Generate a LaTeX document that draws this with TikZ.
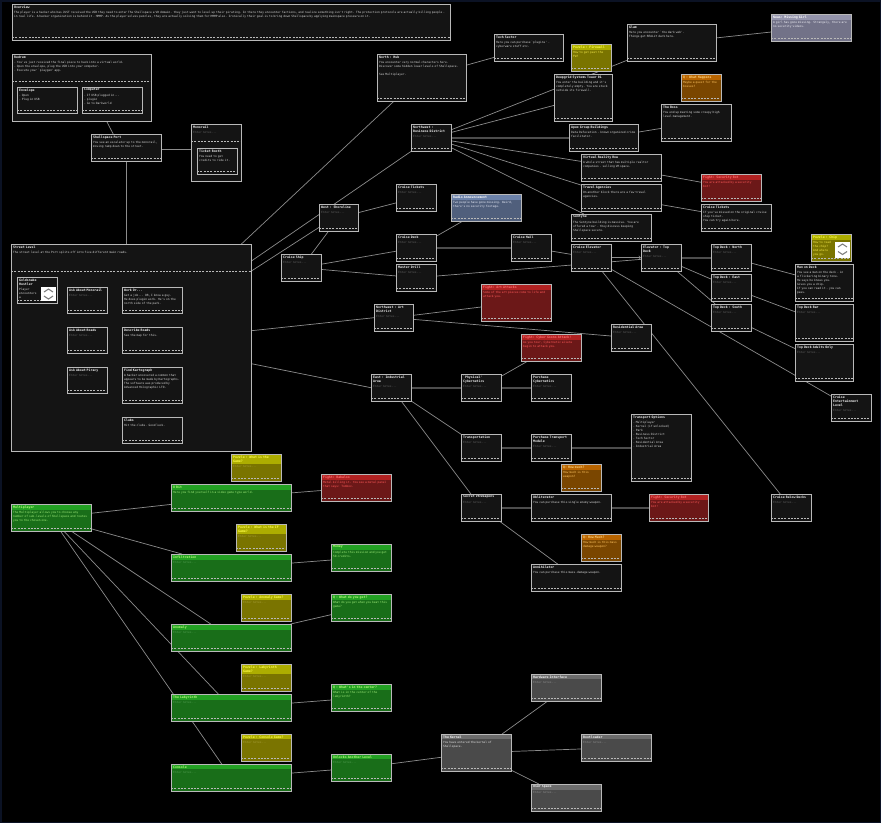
\documentclass[tikz,border=0pt]{standalone}
\usepackage{fontspec}
\setmonofont{DejaVu Sans Mono}

\pgfdeclarelayer{bg}
\pgfsetlayers{bg,main}

\definecolor{frame}{HTML}{0B1224}
\definecolor{rimgrey}{HTML}{B9B9B9}
\definecolor{linkgrey}{HTML}{8C8C8C}
\definecolor{bondgrey}{HTML}{4C4C4C}

\definecolor{plainbody}{HTML}{141414}\colorlet{plainhead}{plainbody}
\definecolor{plaintitle}{HTML}{F2F2F2}\definecolor{plaintext}{HTML}{D4D4D4}\definecolor{plainhint}{HTML}{5E5E5E}
\definecolor{greenhead}{HTML}{23A023}\definecolor{greenbody}{HTML}{196E19}
\definecolor{greentitle}{HTML}{B4FF78}\definecolor{greentext}{HTML}{9CE878}\definecolor{greenhint}{HTML}{4E9A4E}
\definecolor{yellowhead}{HTML}{ADAD00}\definecolor{yellowbody}{HTML}{7A7400}
\definecolor{yellowtitle}{HTML}{FFFF48}\definecolor{yellowtext}{HTML}{F2E64A}\definecolor{yellowhint}{HTML}{A49C36}
\definecolor{redhead}{HTML}{B02222}\definecolor{redbody}{HTML}{6C1818}
\definecolor{redtitle}{HTML}{FF6E6E}\definecolor{redtext}{HTML}{FF5A5A}\definecolor{redhint}{HTML}{B04848}
\definecolor{orangehead}{HTML}{B86400}\definecolor{orangebody}{HTML}{7A4600}
\definecolor{orangetitle}{HTML}{FFD27A}\definecolor{orangetext}{HTML}{FFC460}\definecolor{orangehint}{HTML}{B88040}
\definecolor{slatehead}{HTML}{6C82AA}\definecolor{slatebody}{HTML}{505F7C}
\definecolor{slatetitle}{HTML}{FFFFFF}\definecolor{slatetext}{HTML}{E4E8F4}\definecolor{slatehint}{HTML}{9AA4BC}
\definecolor{lilachead}{HTML}{9494AC}\definecolor{lilacbody}{HTML}{727288}
\definecolor{lilactitle}{HTML}{FFFFFF}\definecolor{lilactext}{HTML}{EEEEF4}\definecolor{lilachint}{HTML}{A8A8B8}
\definecolor{greyhead}{HTML}{6C6C6C}\definecolor{greybody}{HTML}{4A4A4A}
\definecolor{greytitle}{HTML}{F4F4F4}\definecolor{greytext}{HTML}{E0E0E0}\definecolor{greyhint}{HTML}{8A8A8A}
\colorlet{hint}{gray}

\newcommand\enternotes{\textcolor{hint}{Enter notes...}}

\newcommand\card[7][plain]{%
	\pgfmathsetmacro\cardw{#4-4}
	\node[box=#1, minimum width=#4pt, minimum height=#5pt] (#2) at (#3) {};
	\node[head=#1, text width=\cardw pt] (#2-t) at (#2.north west) {#6};
	\node[body=#1, text width=\cardw pt] (#2-b) at (#2-t.south west) {#7};
	\draw[dashline] ([yshift=3.3pt]#2.south west) -- ([yshift=3.3pt]#2.south east);
	\draw[rim] (#2.north west) rectangle (#2.south east);
}

\newcommand\cluster[7]{%
	\pgfmathsetmacro\cardw{#3-4}
	\node[box=plain, minimum width=#3pt, minimum height=#4pt] (#1) at (#2) {};
	\node[head=plain, text width=\cardw pt] (#1-t) at (#1.north west) {#6};
	\node[body=plain, text width=\cardw pt] (#1-b) at (#1-t.south west) {#7};
	\draw[dashline] ([yshift=-#5pt]#1.north west) -- ([yshift=-#5pt]#1.north east);
	\draw[rim] (#1.north west) rectangle (#1.south east);
}

\begin{document}
\begin{tikzpicture}[
			x=1pt, y=-1pt,
			box/.style={fill=#1body, inner sep=0pt, anchor=north west},
			head/.style={fill=#1head, anchor=north west, inner xsep=2pt, inner ysep=1.4pt, align=left,
				text=#1title, font=\ttfamily\bfseries\fontsize{3.2}{4}\selectfont},
			body/.style={anchor=north west, inner xsep=2pt, inner ysep=1.1pt, align=left,
				text=#1text, font=\ttfamily\fontsize{2.9}{4}\selectfont\colorlet{hint}{#1hint}},
			rim/.style={draw=rimgrey, line width=0.8pt},
			dashline/.style={draw=rimgrey, line width=0.6pt, dash pattern=on 2pt off 1.3pt},
			link/.style={draw=linkgrey, line width=0.7pt},
			bond/.style={draw=bondgrey, line width=1.8pt},
			icon/.style={fill=white, inner sep=0pt, anchor=north west},
			chev/.style={draw=gray, line width=1.1pt}
			]

				\useasboundingbox (0,0) rectangle (881,823);
				\begin{pgfonlayer}{bg}
					\fill[frame] (0,0) rectangle (881,823);
					\fill[black] (1.5,1.5) rectangle (879.5,821.5);
				\end{pgfonlayer}

				\card{overview}{12,4}{438}{36}{Overview}{The player is a hacker who has JUST received the USB they need to enter The Shellspace a VR domain. they just want to level up their pirating. In there they encounter factions, and realize something isn't right. The protection protocols are actually killing people - in real life. A hacker organization is behind it - HMMP. As the player solves puzzles, they are actually solving them for HMMP also. Ironically their goal is to bring down Shellspace by applying mainspace pressure on it.}

				\cluster{redrum}{12,54}{139}{67}{27}{Redrum}{- You've just received the final piece to hack into a virtual world.\\- Open the envelope, plug the USB into your computer.\\- Execute your `playgen' app.}
				\card{envelope}{17,87}{60}{26}{Envelope}{- Open\\- Plug in USB}
				\card{computer}{82,87}{60}{26}{Computer}{- If USB plugged in...\\- plugin\\- Go to Darkworld}
				\card{port}{91,134}{70}{27}{Shellspace Port}{You see an escalator up to the monorail, moving ramp down to the street.}
				\cluster{monorail}{191,124}{50}{57}{17}{Monorail}{\enternotes}
				\card{booth}{197,148}{40}{26}{Ticket Booth}{You need to get credits to ride it.}

				\card{nhub}{377,54}{89}{47}{North : Hub}{You encounter very normal characters here.\\Discover some hidden lower levels of Shellspace.\\[4pt]See Multiplayer.}
				\card{tech}{494,34}{69}{27}{Tech Sector}{Here you can purchase `plugins' - cyberware stuff etc.}
				\card[yellow]{firewall}{571,44}{40}{27}{Puzzle : Firewall}{How to get past the FW?}
				\card{glam}{627,24}{89}{37}{Glam}{Here you encounter `the dark web'.\\Things get REALLY dark here.}
				\card[lilac]{news}{771,14}{80}{27}{News: Missing Girl}{A girl has gone missing. Strangely, there are no security videos.}
				\card{deepgrid}{554,74}{58}{47}{Deepgrid Systems Tower 01}{You enter the building and it's completely empty. You are stuck outside its firewall.}
				\card[orange]{happens}{681,74}{40}{27}{Q : What Happens}{Maybe a quest for the bosses?}
				\card{boss}{661,104}{70}{37}{The Boss}{You end up meeting some creepy high level management.}
				\card{apex}{569,124}{69}{27}{Apex Group Buildings}{Data Defecation - known organized crime facilitator.}
				\card{bizdist}{411,124}{40}{27}{Northwest :\\Business District}{\enternotes}
				\card{vrrow}{581,154}{80}{27}{Virtual Reality Row}{A whole street that has multiple realtor companies - selling VR space.}
				\card{travel}{581,184}{80}{27}{Travel Agencies}{On another block there are a few travel agencies.}
				\card[red]{secbot}{701,174}{60}{27}{Fight: Security Bot}{You are attacked by a security bot!}
				\card{ticketsr}{701,204}{70}{27}{Cruise Tickets}{If you've missed on the original cruise ship ticket.\\You can try again here.}
				\card{sentyne}{571,214}{80}{27}{Sentyne}{The Sentyne building is massive. You are offered a tour - they discuss keeping Shellspace secure.}

				\card{ticketsl}{396,184}{40}{27}{Cruise Tickets}{\enternotes}
				\card[slate]{radio}{451,194}{70}{27}{Radio Announcement}{Two people have gone missing. Weird, there's no security footage.}
				\card{shore}{319,204}{39}{27}{West : Shoreline}{\enternotes}
				\card{ship}{281,254}{40}{27}{Cruise Ship}{\enternotes}
				\card{deck}{396,234}{40}{27}{Cruise Deck}{\enternotes}
				\card{hall}{511,234}{40}{27}{Cruise Hall}{\enternotes}
				\card{drill}{396,264}{40}{27}{Master Drill}{\enternotes}
				\card[red]{artattack}{481,284}{70}{37}{Fight: Art Attacks}{Some of the art pieces come to life and attack you.}
				\card{artdist}{374,304}{39}{27}{Northwest : Art\\District}{\enternotes}
				\card[red]{goons}{521,334}{60}{27}{Fight: Cyber Goons Attack!}{As you tour, Cybernetic aliens begin to attack you.}
				\card{resid}{611,324}{40}{27}{Residential Area}{\enternotes}

				\card{celev}{571,244}{40}{27}{Cruise Elevator}{\enternotes}
				\card{elev}{641,244}{40}{27}{Elevator : Top\\Deck}{\enternotes}
				\card{tdnorth}{711,244}{40}{27}{Top Deck : North}{\enternotes}
				\card{tdeast}{711,274}{40}{27}{Top Deck : East}{\enternotes}
				\card{tdsouth}{711,304}{40}{27}{Top Deck : South}{\enternotes}
				\card[yellow]{chip}{811,234}{40}{27}{Puzzle : Chip}{How to read\\the chip?\\And where\\you go.}
				\card{manondeck}{795,264}{58}{37}{Man on Deck}{You see a man on the deck - in\\a flickering binary tone.\\He says he knows you.\\Gives you a chip.\\If you can read it - you can\\pass.}
				\card{tdbar}{795,304}{58}{37}{Top Deck Bar}{\enternotes}
				\card{adults}{795,344}{58}{37}{Top Deck Adults Only}{\enternotes}
				\card{entertain}{831,394}{40}{27}{Cruise\\Entertainment\\Level}{\enternotes}
				\card{below}{771,494}{40}{27}{Cruise Below Decks}{\enternotes}

				\card{indust}{371,374}{40}{27}{East : Industrial\\Area}{\enternotes}
				\card{physcyber}{461,374}{40}{27}{`Physical'\\Cybernetics}{\enternotes}
				\card{buycyber}{531,374}{40}{27}{Purchase\\Cybernetics}{\enternotes}
				\card{transport}{461,434}{40}{27}{Transportation}{\enternotes}
				\card{buytrans}{531,434}{40}{27}{Purchase Transport\\Module}{\enternotes}
				\card{transopts}{631,414}{60}{67}{Transport Options}{- Multiplayer\\- Kernel (if unlocked)\\- Park\\- Business District\\- Tech Sector\\- Residential Area\\- Industrial Area}
				\card[orange]{howmuch}{561,464}{40}{27}{Q: How much?}{How much is this weapon?}
				\card{secretvr}{461,494}{40}{27}{Secret VR Weapons}{\enternotes}
				\card{oblit}{531,494}{80}{27}{Obliterator}{You can purchase this single enemy weapon.}
				\card[red]{secbot2}{649,494}{59}{27}{Fight: Security Bot}{You are attacked by a security bot!}
				\card[orange]{howmuch2}{581,534}{40}{27}{Q: How Much?}{How much is this mass damage weapon?}
				\card{annih}{531,564}{90}{27}{Annihilator}{You can purchase this mass-damage weapon.}

				\cluster{street}{11,244}{240}{207}{27}{Street Level}{The street level at the Port splits off into five different main roads.}
				\card{hustler}{17,277}{40}{26}{Goldsnake\\Hustler}{Player\\encounters\\a}
				\node[icon, minimum width=15pt, minimum height=14pt] (hustler-i) at (41,287) {};
				\draw[chev] (44,292) -- (48.5,289) -- (53,292) (44,296) -- (48.5,299) -- (53,296);
				\card{askmono}{67,287}{40}{26}{Ask About Monorail}{\enternotes}
				\card{workor}{122,287}{60}{26}{Work Or...}{Get a job... OR, I know a guy. He does plugin work. He's on the north side of the park.}
				\card{askroads}{67,327}{40}{26}{Ask About Roads}{\enternotes}
				\card{descroads}{122,327}{60}{26}{Describe Roads}{See the map for this.}
				\card{askpiracy}{67,367}{40}{26}{Ask About Piracy}{\enternotes}
				\card{kartograph}{122,367}{60}{36}{Find Kartograph}{A hacker uncovered a common that appears to be made by Kartographs. The software was produced by Advanced Holographic LTD.}
				\card{clubs}{122,417}{60}{26}{Clubs}{Hit the clubs. Good luck.}
				\node[icon, minimum width=15pt, minimum height=16pt] (chip-i) at (835,241.5) {};
				\draw[chev] (838,247) -- (842.5,244) -- (847,247) (838,251.5) -- (842.5,254.5) -- (847,251.5);

				\card[yellow]{pzgame}{231,454}{50}{27}{Puzzle : What is the\\Game?}{\enternotes}
				\card[green]{eightbit}{171,484}{120}{27}{8 Bit}{Here you find yourself in a video game type world.}
				\card[red]{babaloo}{321,474}{70}{27}{Fight: Babaloo}{Metal killing it. You see a metal panel that says: Tombox.}
				\card[green]{multi}{11,504}{80}{27}{Multiplayer}{The Multiplayer allows you to choose any number of sub-levels of Shellspace and routes you to the chosen one.}
				\card[yellow]{pzif}{236,524}{50}{27}{Puzzle : What is the IF\\Game?}{\enternotes}
				\card[green]{infil}{171,554}{120}{27}{Infiltration}{\enternotes}
				\card[green]{money}{331,544}{60}{27}{Money}{Complete this mission and you get 50 credits.}
				\card[yellow]{pzanomaly}{241,594}{50}{27}{Puzzle : Anomaly Game?}{\enternotes}
				\card[green]{qget}{331,594}{60}{27}{Q : What do you get?}{What do you get when you beat this game?}
				\card[green]{anomaly}{171,624}{120}{27}{Anomaly}{\enternotes}
				\card[yellow]{pzlaby}{241,664}{50}{27}{Puzzle : Labyrinth\\Game?}{\enternotes}
				\card[green]{qcenter}{331,684}{60}{27}{Q : What's in the center?}{What is in the center of the labyrinth?}
				\card[green]{laby}{171,694}{120}{27}{The Labyrinth}{\enternotes}
				\card[yellow]{pzconsole}{241,734}{50}{27}{Puzzle : Console Game?}{\enternotes}
				\card[green]{unlocks}{331,754}{60}{27}{Unlocks Another Level}{\enternotes}
				\card[green]{console}{171,764}{120}{27}{Console}{\enternotes}
				\card[grey]{kernel}{441,734}{70}{37}{The Kernel}{You have entered the kernel of Shellspace.}
				\card[grey]{hardware}{531,674}{70}{27}{Hardware Interface}{\enternotes}
				\card[grey]{bootloader}{581,734}{70}{27}{Bootloader}{\enternotes}
				\card[grey]{userspace}{531,784}{70}{27}{User Space}{\enternotes}

				\coordinate (portout) at ([yshift=-1.5pt]port.east);
				\begin{pgfonlayer}{bg}
					\draw[link] ([xshift=25pt]redrum.south) -- ([xshift=-13pt]port.north);
					\draw[link] (portout) -- (portout -| booth.west);
					\draw[link] (port.south) -- (port.south |- street.north);
					\draw[link] ([xshift=-10pt]street.north east) -- ([xshift=-28pt]nhub.south);
					\draw[link] ([yshift=-17pt]street.north east) -- (bizdist.south west);
					\draw[link] ([yshift=-27pt]street.north east) -- ([yshift=4pt]shore.south west);
					\draw[link] ([yshift=17pt]street.east) -- (artdist.west);
					\draw[link] ([yshift=-16pt]street.east) -- (indust.west);
					\draw[link,->] (celev) -- (elev);
					\foreach \a/\b in {shore/ticketsl, shore/ship, ship/deck, ship/drill, deck/radio, drill/elev,
							hall/celev, elev/tdeast, elev/tdsouth, tdnorth/manondeck, tdeast/tdbar, tdsouth/adults,
							celev/entertain, celev/below, bizdist/deepgrid, bizdist/glam, apex/boss, bizdist/vrrow,
							bizdist/travel, bizdist/sentyne, nhub/tech, glam/news, vrrow/secbot, travel/ticketsr,
							artdist/artattack, artdist/resid, physcyber/goons, indust/transport, indust/secretvr,
							secretvr/annih, hustler/askmono, hustler/askroads, hustler/askpiracy, askpiracy/kartograph,
							askpiracy/clubs, multi/eightbit, eightbit/babaloo, multi/infil, infil/money, multi/anomaly,
							anomaly/qget, multi/laby, multi/console, laby/qcenter, console/unlocks, unlocks/kernel,
							kernel/hardware, kernel/bootloader, kernel/userspace}
						\draw[link] (\a) -- (\b);
					\foreach \a/\b in {deck/hall, elev/tdnorth, bizdist/apex, indust/physcyber, physcyber/buycyber,
							transport/buytrans, buytrans/transopts, secretvr/oblit, oblit/secbot2, askmono/workor,
							askroads/descroads}
						\draw[bond] (\a) -- (\b);
				\end{pgfonlayer}

			\end{tikzpicture}
\end{document}
